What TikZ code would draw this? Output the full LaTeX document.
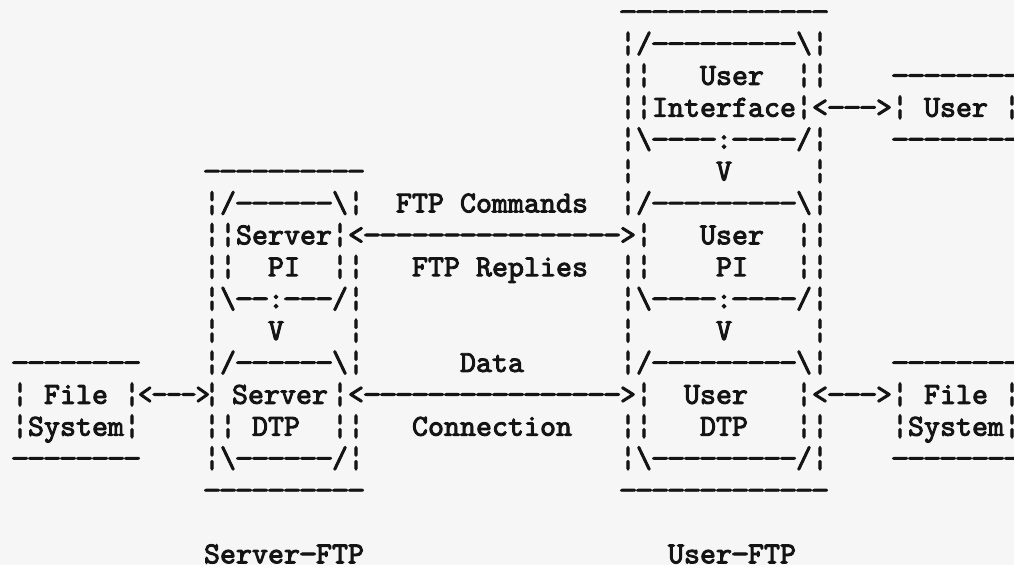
\documentclass[tikz,border=0pt]{standalone}
\usepackage{fontspec}
\usepackage{graphicx}
\newfontfamily\tw{lmmono10-regular.otf}[Ligatures=TeXOff,FakeBold=3]
\definecolor{paper}{RGB}{246,246,246}
\definecolor{ink}{RGB}{20,20,20}
\newcommand\bs{\textbackslash}
% typewriter dash: a hyphen stretched to fill more of its cell
\begingroup
\catcode`\-=\active
\gdef\mkdash{\catcode`\-=\active \def-{\hbox to 16pt{\hss\scalebox{1.18}[1]{\char45}\hss}}}
\endgroup
\tikzset{
  txt/.style={anchor=base west,inner sep=0pt,outer sep=0pt,text=ink,
    font=\tw\fontsize{30.48}{30.48}\selectfont},
  ctxt/.style={txt,anchor=base}
}
% \asc{name}{row}{column}{text}
\newcommand\asc[3]{\begingroup\mkdash\ascB{#1}{#2}{#3}}
\newcommand\ascB[4]{\node[txt] (#1) at ({12+16*#3},{21+31.9*#2}) {#4};\endgroup}
% \ascat{name}{x}{row}{text}, centred at x
\newcommand\ascat[3]{\begingroup\mkdash\ascatB{#1}{#2}{#3}}
\newcommand\ascatB[4]{\node[ctxt] (#1) at (#2,{21+31.9*#3}) {#4};\endgroup}
\begin{document}
\begin{tikzpicture}[x=1pt,y=-1pt]
\fill[paper] (0,0) rectangle (1014,565);
\useasboundingbox (0,0) rectangle (1014,565);
% row 0-4 : user interface and user
\asc{a0}{0}{38}{-------------}
\asc{a1}{1}{38}{¦/---------\bs¦}
\asc{a2a}{2}{38}{¦¦}
\asc{a2b}{2}{43}{User}
\asc{a2c}{2}{49}{¦¦}
\asc{a2d}{2}{55}{--------}
\asc{a3a}{3}{38}{¦¦Interface¦<--->¦}
\asc{a3b}{3}{57}{User}
\asc{a3c}{3}{62}{¦}
\asc{a4a}{4}{38}{¦\bs----:----/¦}
\asc{a4b}{4}{55}{--------}
% row 5
\asc{a5a}{5}{12}{----------}
\asc{a5b}{5}{38}{¦}
\asc{a5c}{5}{44}{V}
\asc{a5d}{5}{50}{¦}
% row 6
\asc{a6a}{6}{12}{¦/------\bs¦}
\asc{a6b}{6}{24}{FTP}
\asc{a6c}{6}{28}{Commands}
\asc{a6d}{6}{38}{¦/---------\bs¦}
% row 7
\asc{a7a}{7}{12}{¦¦Server¦<---------------->¦}
\asc{a7b}{7}{43}{User}
\asc{a7c}{7}{49}{¦¦}
% row 8
\asc{a8a}{8}{12}{¦¦}
\asc{a8b}{8}{16}{PI}
\asc{a8c}{8}{20}{¦¦}
\asc{a8d}{8}{25}{FTP}
\asc{a8e}{8}{29}{Replies}
\asc{a8f}{8}{38}{¦¦}
\asc{a8g}{8}{44}{PI}
\asc{a8h}{8}{49}{¦¦}
% row 9
\asc{a9a}{9}{12}{¦\bs--:---/¦}
\asc{a9b}{9}{38}{¦\bs----:----/¦}
% row 10
\asc{b0a}{10}{12}{¦}
\asc{b0b}{10}{16}{V}
\asc{b0c}{10}{21}{¦}
\asc{b0d}{10}{38}{¦}
\asc{b0e}{10}{44}{V}
\asc{b0f}{10}{50}{¦}
% row 11
\asc{b1a}{11}{0}{--------}
\asc{b1b}{11}{12}{¦/------\bs¦}
\asc{b1c}{11}{28}{Data}
\asc{b1d}{11}{38}{¦/---------\bs¦}
\asc{b1e}{11}{55}{--------}
% row 12
\asc{b2a}{12}{0}{¦}
\asc{b2b}{12}{2}{File}
\asc{b2c}{12}{7}{¦}
\ascat{b2d}{174}{12}{\scalebox{0.9}[1]{<--->}}
\asc{b2e}{12}{12}{¦}
\ascat{b2f}{280}{12}{Server}
\asc{b2g}{12}{20}{¦<---------------->¦}
\asc{b2h}{12}{42}{User}
\asc{b2i}{12}{49}{¦<--->¦}
\asc{b2j}{12}{57}{File}
\asc{b2k}{12}{62}{¦}
% row 13
\asc{b3a}{13}{0}{¦System¦}
\asc{b3b}{13}{12}{¦¦}
\asc{b3c}{13}{15}{DTP}
\asc{b3d}{13}{20}{¦¦}
\asc{b3e}{13}{25}{Connection}
\asc{b3f}{13}{38}{¦¦}
\asc{b3g}{13}{43}{DTP}
\asc{b3h}{13}{49}{¦¦}
\asc{b3i}{13}{55}{¦System¦}
% row 14
\asc{b4a}{14}{0}{--------}
\asc{b4b}{14}{12}{¦\bs------/¦}
\asc{b4c}{14}{38}{¦\bs---------/¦}
\asc{b4d}{14}{55}{--------}
% row 15
\asc{b5a}{15}{12}{----------}
\asc{b5b}{15}{38}{-------------}
% row 17
\asc{b7a}{17}{12}{Server-FTP}
\asc{b7b}{17}{41}{User-FTP}
\end{tikzpicture}
\end{document}
